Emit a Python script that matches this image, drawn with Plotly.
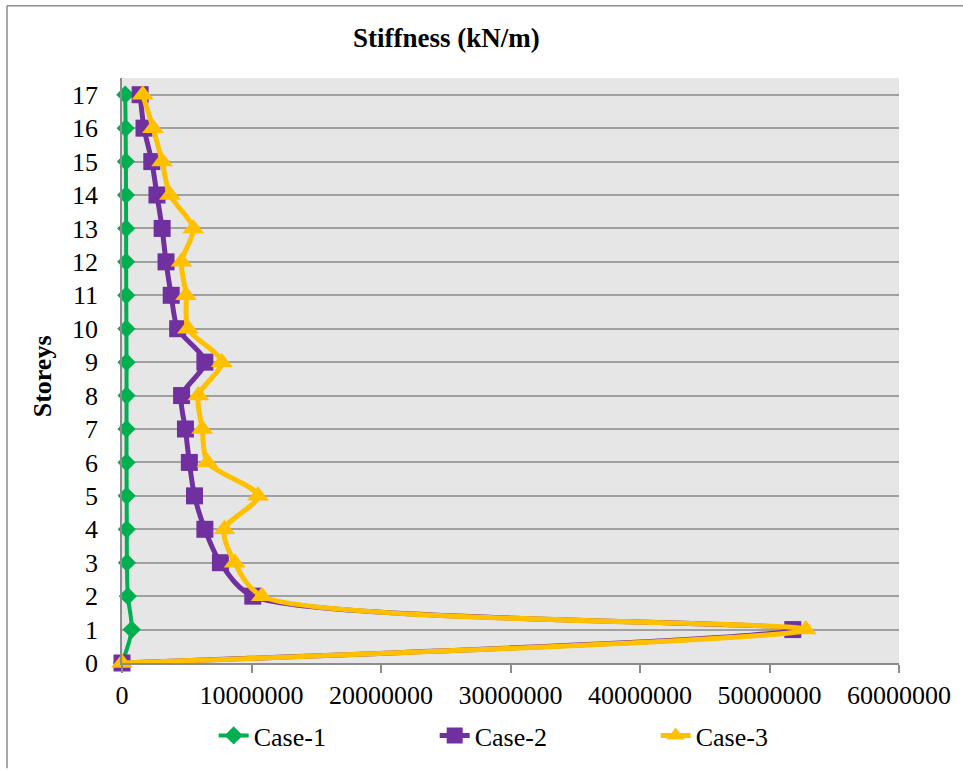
import plotly.graph_objects as go

storeys = list(range(0, 18))
case1 = [0, 750000, 450000, 380000, 370000, 360000, 350000, 350000, 350000, 350000,
         340000, 330000, 320000, 320000, 310000, 300000, 280000, 250000]
case2 = [0, 51800000, 10100000, 7600000, 6400000, 5600000, 5200000, 4900000, 4600000, 6400000,
         4300000, 3800000, 3400000, 3100000, 2700000, 2300000, 1700000, 1400000]
case3 = [0, 52800000, 10800000, 8700000, 7900000, 10500000, 6600000, 6200000, 5900000, 7700000,
         5100000, 4950000, 4600000, 5500000, 3700000, 3100000, 2400000, 1600000]
x_ticks = [0, 10000000, 20000000, 30000000, 40000000, 50000000, 60000000]
names = ["Case-1", "Case-2", "Case-3"]
colors = ["#00b050", "#7030a0", "#ffc000"]

FONT = "Liberation Serif, Times New Roman, serif"

fig = go.Figure()
specs = [
    (case1, "diamond", 14, 4),
    (case2, "square", 17, 5),
    (case3, "triangle-up", 19, 5),
]
for (vals, sym, msize, lw), name, col in zip(specs, names, colors):
    fig.add_trace(go.Scatter(
        x=vals, y=storeys, name=name, mode="lines+markers", cliponaxis=False,
        line=dict(color=col, width=lw, shape="spline", smoothing=0.8),
        marker=dict(symbol=sym, size=msize, color=col),
    ))

L, R, T, B = 122, 64, 78, 103
fig.update_layout(
    width=963, height=771,
    margin=dict(l=L, r=R, t=T, b=B),
    paper_bgcolor="white", plot_bgcolor="#e6e6e6",
    font=dict(family=FONT, size=26, color="black"),
    showlegend=True,
    legend=dict(orientation="h", x=0.118, xanchor="left", y=-0.124, yanchor="middle",
                entrywidth=176, entrywidthmode="pixels", font=dict(size=26),
                bgcolor="rgba(0,0,0,0)"),
    xaxis=dict(range=[0, 60000000], tickvals=x_ticks, ticktext=[str(v) for v in x_ticks],
               showgrid=False, zeroline=False, showline=True, linecolor="#8c8c8c", linewidth=1.5,
               ticks="outside", ticklen=8, tickcolor="#8c8c8c", tickwidth=1.5,
               tickfont=dict(size=26, family=FONT)),
    yaxis=dict(range=[0, 17.5], tickvals=storeys, ticktext=[str(s) for s in storeys],
               showgrid=True, gridcolor="#a0a0a0", gridwidth=1.5, zeroline=False,
               showline=True, linecolor="#8c8c8c", linewidth=1.5, ticks="",
               ticklabelstandoff=17, tickfont=dict(size=26, family=FONT)),
    annotations=[
        dict(text="<b>Stiffness (kN/m)</b>", x=0.418, y=1.068, xref="paper", yref="paper",
             xanchor="center", yanchor="middle", showarrow=False, font=dict(size=27, family=FONT)),
        dict(text="<b>Storeys</b>", x=-0.103, y=0.49, xref="paper", yref="paper",
             xanchor="center", yanchor="middle", textangle=-90, showarrow=False,
             font=dict(size=26, family=FONT)),
    ],
    shapes=[
        dict(type="line", xref="paper", yref="paper", x0=-0.148, x1=1.09, y0=1.1237, y1=1.1237,
             line=dict(color="#8c8c8c", width=1.5)),
        dict(type="line", xref="paper", yref="paper", x0=-0.148, x1=-0.148, y0=1.1237, y1=-0.18,
             line=dict(color="#8c8c8c", width=1.5)),
    ],
)
fig.write_html("out.html")
